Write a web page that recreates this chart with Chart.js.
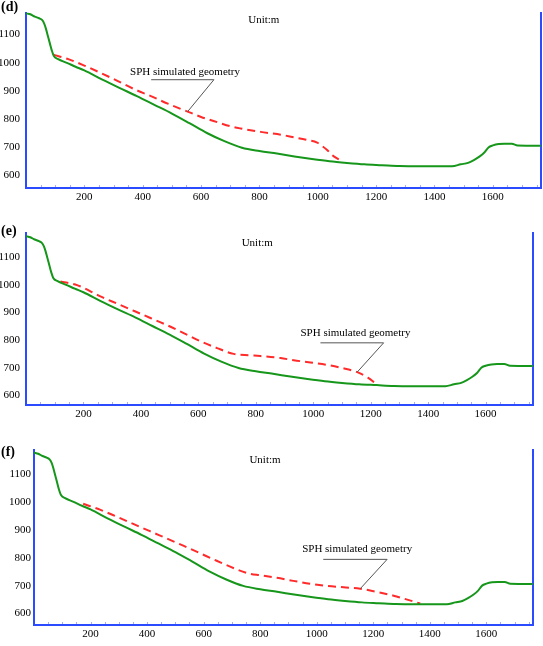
<!DOCTYPE html>
<html>
<head>
<meta charset="utf-8">
<script src="https://cdn.jsdelivr.net/npm/chart.js@4.4.1/dist/chart.umd.min.js"></script>
<style>
html, body { margin: 0; padding: 0; background: #fff; }
#wrap { position: relative; width: 543px; height: 646px; overflow: hidden; }
canvas { position: absolute; left: 0; }
</style>
</head>
<body>
<div id="wrap">
  <canvas id="pd" width="543" height="205" style="top:0px"></canvas>
  <canvas id="pe" width="543" height="202" style="top:220px"></canvas>
  <canvas id="pf" width="543" height="206" style="top:440px"></canvas>
</div>
<script>
// terrain profile (same in all three panels)
const terrainX = [0, 15, 30, 45, 55, 62, 68, 75, 82, 88, 95, 110, 140, 170, 200, 260, 320, 380, 440, 500, 560, 620, 680, 740, 800, 860, 920, 980, 1040, 1100, 1160, 1220, 1280, 1340, 1400, 1460, 1490, 1515, 1535, 1555, 1570, 1585, 1600, 1620, 1640, 1665, 1685, 1765];
const terrainZ = [1176, 1172, 1164, 1158, 1152, 1140, 1122, 1095, 1068, 1045, 1025, 1013, 1000, 986, 973, 941, 911, 882, 851, 820, 786, 751, 722, 699, 687, 678, 668, 659, 651, 645, 640, 637, 634, 633, 633, 633, 640, 645, 655, 668, 681, 700, 707, 712, 713, 713, 707, 706];

// SPH simulated geometry, panels d, e, f
const sphDX = [95, 145, 200, 258, 315, 372, 430, 486, 554, 600, 657, 700, 736, 804, 873, 917, 960, 998, 1015, 1032, 1050, 1072];
const sphDZ = [1028, 1013, 990, 963, 935, 906, 881, 855, 827, 808, 789, 775, 767, 755, 745, 736, 727, 717, 705, 691, 672, 657];
const sphEX = [120, 178, 259, 317, 375, 433, 491, 549, 607, 665, 723, 780, 816, 886, 932, 990, 1049, 1100, 1153, 1190, 1223];
const sphEZ = [1012, 999, 958, 932, 906, 880, 854, 825, 796, 771, 750, 745, 742, 735, 727, 719, 710, 699, 684, 664, 638];
const sphFX = [174, 233, 292, 351, 410, 469, 528, 587, 646, 705, 764, 800, 859, 917, 976, 1036, 1095, 1154, 1213, 1272, 1320, 1366];
const sphFZ = [993, 972, 947, 921, 895, 869, 843, 816, 789, 763, 742, 737, 728, 717, 707, 699, 694, 689, 677, 664, 650, 636];

const xTicks = [200, 400, 600, 800, 1000, 1200, 1400, 1600];
const yTicks = [600, 700, 800, 900, 1000, 1100];

const BLUE = '#2a4bff';
Chart.defaults.font.family = '"Liberation Serif", "Times New Roman", serif';
Chart.defaults.color = '#000';

const pts = (xs, zs) => xs.map((v, i) => ({x: v, y: zs[i]}));

const notesPlugin = {
  id: 'notes',
  afterDatasetsDraw(chart, args, o) {
    const {ctx, chartArea, scales: {x, y}} = chart;
    const px = v => x.getPixelForValue(v), py = v => y.getPixelForValue(v);
    ctx.save();
    // small minor ticks inside the bottom axis
    ctx.strokeStyle = 'rgba(42,75,255,.45)';
    ctx.lineWidth = 1;
    for (let v = 50; v < x.max; v += 50) {
      const p = Math.round(px(v)) + .5;
      ctx.beginPath(); ctx.moveTo(p, chartArea.bottom - 1); ctx.lineTo(p, chartArea.bottom - 3); ctx.stroke();
    }
    ctx.fillStyle = '#000';
    ctx.font = '11px "Liberation Serif"';
    ctx.textAlign = 'center';
    ctx.textBaseline = 'middle';
    ctx.fillText('Unit:m', px(o.unit[0]), py(o.unit[1]));
    ctx.fillText('SPH simulated geometry', px(o.note[0]), py(o.note[1]));
    const tip = chart.getDatasetMeta(1).data[o.tip];
    ctx.strokeStyle = '#555';
    ctx.beginPath();
    ctx.moveTo(px(o.lead[0]), py(o.lead[2]));
    ctx.lineTo(px(o.lead[1]), py(o.lead[2]));
    ctx.lineTo(tip.x, tip.y);
    ctx.stroke();
    ctx.font = 'bold 14px "Liberation Serif"';
    ctx.textAlign = 'left';
    ctx.fillText(o.tag, 1, o.tagY);
    ctx.restore();
  }
};

function panel(id, p) {
  const H = document.getElementById(id).height;
  new Chart(document.getElementById(id), {
    type: 'line',
    data: {
      datasets: [{
        data: pts(terrainX, terrainZ),
        borderColor: '#16961a',
        borderWidth: 2,
        pointRadius: 0,
        cubicInterpolationMode: 'monotone'
      }, {
        data: pts(p.sx, p.sz),
        borderColor: '#ff2a2a',
        borderWidth: 2,
        borderDash: [8, 5],
        pointRadius: 0,
        cubicInterpolationMode: 'monotone'
      }]
    },
    options: {
      responsive: false,
      animation: false,
      devicePixelRatio: 1,
      layout: { padding: { top: p.top, right: 543 - p.right, left: 0, bottom: 0 } },
      plugins: {
        legend: { display: false },
        tooltip: { enabled: false },
        notes: p.notes
      },
      scales: {
        x: {
          type: 'linear', min: 0, max: 1765,
          afterFit: s => { s.height = H - p.bottom; },
          afterBuildTicks: s => { s.ticks = xTicks.map(v => ({value: v})); },
          grid: { display: false, drawTicks: false },
          border: { color: BLUE, width: 2 },
          ticks: { padding: 3, font: { size: 11 }, maxRotation: 0, callback: v => String(v) }
        },
        y: {
          min: p.yMin, max: p.yMax,
          afterFit: s => { s.width = p.left; },
          afterBuildTicks: s => { s.ticks = yTicks.map(v => ({value: v})); },
          grid: { display: false, drawTicks: false },
          border: { color: BLUE, width: 2 },
          ticks: { padding: p.yPad, font: { size: 11 }, callback: v => String(v) }
        },
        yR: {
          position: 'right',
          afterFit: s => { s.width = 0; },
          grid: { drawOnChartArea: false, drawTicks: false },
          border: { color: BLUE, width: 2 },
          ticks: { display: false }
        }
      }
    },
    plugins: [notesPlugin]
  });
}

panel('pd', {
  sx: sphDX, sz: sphDZ, top: 5, bottom: 188, left: 26, right: 541, yMin: 556, yMax: 1178, yPad: 6,
  notes: { tag: '(d)', tagY: 7, unit: [815, 1150], note: [545, 967], lead: [429, 644, 940], tip: 8 }
});
panel('pe', {
  sx: sphEX, sz: sphEZ, top: 5, bottom: 185, left: 26, right: 533, yMin: 565, yMax: 1189, yPad: 6,
  notes: { tag: '(e)', tagY: 11, unit: [805, 1151], note: [1147, 825], lead: [1025, 1245, 790], tip: 18 }
});
panel('pf', {
  sx: sphFX, sz: sphFZ, top: 6, bottom: 185, left: 34, right: 533, yMin: 559, yMax: 1187, yPad: 3,
  notes: { tag: '(f)', tagY: 12, unit: [817, 1148], note: [1143, 829], lead: [1023, 1249, 794], tip: 17 }
});
</script>
</body>
</html>
